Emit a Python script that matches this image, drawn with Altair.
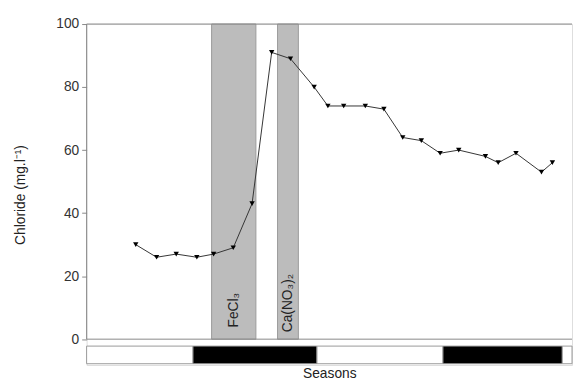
import altair as alt
import pandas as pd

# data (x in months from start of record)
months = [2.43, 3.46, 4.43, 5.45, 6.28, 7.25, 8.18, 9.15, 10.08, 11.25, 11.93, 12.71,
          13.78, 14.70, 15.63, 16.55, 17.48, 18.40, 19.72, 20.35, 21.23, 22.49, 23.03]
chloride = [30, 26, 27, 26, 27, 29, 43, 91, 89, 80, 74, 74,
            74, 73, 64, 63, 59, 60, 58, 56, 59, 53, 56]

band_labels = ["FeCl₃", "Ca(NO₃)₂"]
band_start = [6.18, 9.44]
band_end = [8.37, 10.47]

season_start = [0, 5.26, 11.39, 17.62, 23.52]
season_end = [5.26, 11.39, 17.62, 23.52, 24]
season_kind = ["light", "dark", "light", "dark", "light"]

XMAX = 24
YMIN = -8.2

df = pd.DataFrame({"month": months, "chloride": chloride})
bands = pd.DataFrame({"label": band_labels, "x1": band_start, "x2": band_end,
                      "y1": [0] * 2, "y2": [100] * 2, "ty": [3.7, 2.2],
                      "tx": [(a + b) / 2 for a, b in zip(band_start, band_end)]})
seasons = pd.DataFrame({"x1": season_start, "x2": season_end, "kind": season_kind,
                        "y1": [-2.2] * 5, "y2": [-7.8] * 5})

xs = alt.Scale(domain=[0, XMAX], nice=False, zero=False)
ys = alt.Scale(domain=[YMIN, 100], nice=False, zero=False)

xaxis = alt.Axis(title="Seasons", labels=False, ticks=False, domain=False, grid=False,
                 titleFont="Liberation Sans", titleFontSize=14, titleFontWeight="normal",
                 titleColor="#222", titlePadding=2)
yaxis = alt.Axis(title="Chloride (mg.l⁻¹)", values=list(range(0, 101, 10)),
                 labelExpr="datum.value % 20 == 0 ? datum.label : ''",
                 domain=False, grid=False, tickColor="#888", tickSize=5,
                 labelFont="Liberation Sans", labelFontSize=14, labelColor="#333",
                 labelPadding=3, titleFont="Liberation Sans", titleFontSize=14,
                 titleFontWeight="normal", titleColor="#222", titlePadding=29)

band_rect = alt.Chart(bands).mark_rect(fill="#bcbcbc", stroke="#9a9a9a", strokeWidth=1).encode(
    x=alt.X("x1:Q", scale=xs, axis=xaxis), x2="x2:Q",
    y=alt.Y("y1:Q", scale=ys, axis=yaxis), y2="y2:Q")

band_text = alt.Chart(bands).mark_text(angle=270, align="left", baseline="middle",
                                       font="Liberation Sans", fontSize=14, color="#222").encode(
    x=alt.X("tx:Q", scale=xs), y=alt.Y("ty:Q", scale=ys), text="label:N")

frame = alt.Chart(pd.DataFrame({"v": [0, 100]})).mark_rule(color="#888", strokeWidth=1).encode(
    y=alt.Y("v:Q", scale=ys))
left = alt.Chart(pd.DataFrame({"x": [0], "a": [0], "b": [100]})).mark_rule(color="#888", strokeWidth=1).encode(
    x=alt.X("x:Q", scale=xs), y=alt.Y("a:Q", scale=ys), y2="b:Q")

season_rect = alt.Chart(seasons).mark_rect(stroke="#999", strokeWidth=1).encode(
    x=alt.X("x1:Q", scale=xs), x2="x2:Q",
    y=alt.Y("y1:Q", scale=ys), y2="y2:Q",
    fill=alt.Fill("kind:N", scale=alt.Scale(domain=["light", "dark"], range=["white", "black"]), legend=None))

line = alt.Chart(df).mark_line(color="#333", strokeWidth=1).encode(
    x=alt.X("month:Q", scale=xs), y=alt.Y("chloride:Q", scale=ys))
pts = alt.Chart(df).mark_point(shape="triangle-down", filled=True, color="black", size=30, opacity=1).encode(
    x=alt.X("month:Q", scale=xs), y=alt.Y("chloride:Q", scale=ys))

chart = alt.layer(band_rect, band_text, frame, left, season_rect, line, pts).properties(
    width=494, height=347,
    padding={"left": 5, "top": 6, "right": 0, "bottom": 0},
).configure_view(stroke=None).configure(background="white")

chart.save("out.html", embed_options={"renderer": "svg", "actions": False})
